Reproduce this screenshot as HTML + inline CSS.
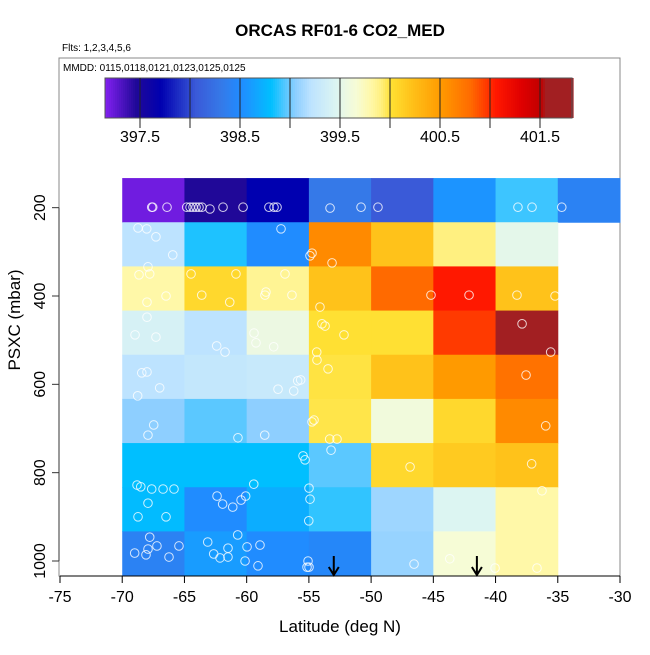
<!DOCTYPE html>
<html><head><meta charset="utf-8"><style>
body{margin:0;background:#fff;}
svg text{font-family:"Liberation Sans",sans-serif;}
</style></head><body>
<svg id="chart" width="650" height="650" viewBox="0 0 650 650" xmlns="http://www.w3.org/2000/svg">
<text x="340" y="36" text-anchor="middle" font-size="17" font-weight="bold">ORCAS RF01-6 CO2_MED</text>
<text x="62" y="51" font-size="10">Flts: 1,2,3,4,5,6</text>
<rect x="59" y="58" width="561" height="518" fill="none" stroke="#888" stroke-width="1"/>
<text x="63" y="71" font-size="10">MMDD: 0115,0118,0121,0123,0125,0125</text>
<g id="cells"></g><g id="pts"></g><g id="arrows"></g><g id="cbar"></g><g id="axes"></g>
<text x="340" y="632" text-anchor="middle" font-size="17">Latitude (deg N)</text>
<text x="0" y="0" transform="translate(20,320) rotate(-90)" text-anchor="middle" font-size="17">PSXC (mbar)</text>
</svg>
<script>
const latBins=[-70,-65,-60,-55,-50,-45,-40,-35];
const presBins=[183,283,383,483,583,683,783,883,983];
const co2Grid=[
[397.2,397.45,397.7,398.3,398.05,398.55,398.9,398.4],
[399.2,398.85,398.5,400.6,400.2,399.9,399.5,null],
[399.8,400.05,399.85,400.2,400.8,401.05,400.2,null],
[399.4,399.2,399.55,400.0,400.0,400.95,401.6,null],
[399.2,399.25,399.28,399.98,400.2,400.5,400.75,null],
[399.05,398.95,399.05,399.97,399.6,400.05,400.6,null],
[398.8,398.8,398.8,398.95,400.05,400.15,400.2,null],
[398.78,398.5,398.7,398.88,399.1,399.45,399.8,null],
[398.4,398.6,398.5,398.45,399.08,399.65,399.8,null]];
const ptLat=[-67.63,-67.55,-66.40,-64.82,-64.55,-64.31,-64.07,-63.83,-63.59,-62.95,-61.90,-60.29,-58.21,-57.80,-57.56,-53.30,-50.81,-49.45,-38.20,-37.07,-34.68,
-68.73,-68.03,-67.29,-65.94,-67.93,-57.24,-54.91,-54.75,-53.14,
-68.65,-67.79,-66.48,-68.01,-64.47,-60.86,-63.61,-61.36,-56.92,-58.45,-58.53,-56.36,-54.11,-45.19,-42.13,-38.28,-35.22,
-68.01,-68.97,-67.29,-62.41,-61.74,-59.41,-59.25,-57.83,-53.95,-53.70,-52.18,-54.37,-54.35,-53.46,-37.87,-35.57,
-66.99,-68.76,-57.48,-56.22,-55.90,-55.66,-68.43,-68.01,-37.55,
-67.47,-67.93,-60.70,-58.55,-54.59,-54.75,-53.33,-52.74,-53.22,-35.97,
-55.47,-55.31,-68.81,-68.51,-67.63,-66.72,-65.84,-59.43,-46.87,-37.10,
-54.99,-54.91,-67.93,-68.73,-66.48,-62.38,-61.93,-61.12,-60.45,-60.08,-55.01,-36.27,
-67.79,-69.00,-68.09,-67.93,-67.21,-66.24,-65.44,-63.13,-62.65,-62.14,-61.50,-61.50,-60.72,-59.97,-58.93,-60.13,-59.09,-55.15,-54.99,-55.07,-46.55,-43.68,-40.04,-36.67];
const ptPres=[199,199,199,199,199,199,199,199,199,203,199,199,199,199,199,201,199,199,199,199,199,
246,248,266,307,334,248,309,303,325,
352,350,400,414,350,350,398,414,350,391,398,398,425,398,398,398,400,
448,488,493,513,527,484,506,515,463,468,488,527,545,565,463,527,
608,626,611,615,592,590,574,572,579,
692,715,721,715,681,685,724,724,749,694,
762,771,828,832,837,837,837,826,787,780,
835,860,869,900,900,853,871,878,862,853,909,841,
946,982,986,973,966,991,966,957,984,993,991,971,941,968,964,1000,1011,1014,1014,1000,1007,995,1016,1016];
const arrowLat=[-53,-41.5];
const xTicks=[-75,-70,-65,-60,-55,-50,-45,-40,-35,-30];
const yTicks=[200,400,600,800,1000];
const cbTicks=[397.5,398.5,399.5,400.5,401.5];
const cbLines=[397.5,398,398.5,399,399.5,400,400.5,401,401.5];

const NS='http://www.w3.org/2000/svg';
function X(lat){return 60+(lat+75)*560/45;}
function Y(p){return 296+(p-400)*265/600;}
function CB(v){return 140+(v-397.5)*100;}
const stops=[[397.15,'#8020ee'],[397.45,'#200898'],[397.7,'#0000b0'],[398.05,'#3a5ad8'],[398.3,'#3579e8'],[398.5,'#208cff'],[398.6,'#189cff'],[398.8,'#00bfff'],[398.95,'#5bc8ff'],[399.05,'#8ecfff'],[399.2,'#bde3ff'],[399.45,'#dcf5f2'],[399.55,'#ecf8e2'],[399.65,'#f6fcd6'],[399.8,'#fff8a8'],[399.9,'#fff080'],[400.0,'#ffe033'],[400.2,'#ffc21a'],[400.5,'#ff9a00'],[400.6,'#ff8a00'],[400.8,'#ff6a00'],[400.95,'#ff3a00'],[401.05,'#ff1800'],[401.3,'#e00000'],[401.5,'#c00000'],[401.55,'#a21f22'],[401.82,'#a21f22']];
function hx(c){return [1,3,5].map(i=>parseInt(c.substr(i,2),16));}
function color(v){
  if(v<=stops[0][0])return stops[0][1];
  for(let i=1;i<stops.length;i++){if(v<=stops[i][0]){const a=stops[i-1],b=stops[i];const t=(v-a[0])/(b[0]-a[0]);const ca=hx(a[1]),cb=hx(b[1]);return 'rgb('+ca.map((c,k)=>Math.round(c+(cb[k]-c)*t)).join(',')+')';}}
  return stops[stops.length-1][1];
}
function mk(tag,attrs,parent){const e=document.createElementNS(NS,tag);for(const k in attrs)e.setAttribute(k,attrs[k]);parent.appendChild(e);return e;}
const gc=document.getElementById('cells');
co2Grid.forEach((row,r)=>row.forEach((v,c)=>{
  if(v===null)return;
  const x0=X(latBins[c]),x1=X(latBins[c]+5),y0=Y(presBins[r]-50),y1=Y(presBins[r]+50);
  const e=mk('rect',{x:x0,y:y0,width:x1-x0+0.5,height:y1-y0+0.5,fill:color(v)},gc);
  
  
}));
const gp=document.getElementById('pts');
ptLat.forEach((la,i)=>{
  const e=mk('circle',{cx:X(la),cy:Y(ptPres[i]),r:4.3,fill:'none',stroke:'rgba(255,255,255,0.8)','stroke-width':1},gp);
  
  
});
const ga=document.getElementById('arrows');
arrowLat.forEach(la=>{
  const x=X(la);
  const e=mk('path',{d:`M${x},556 L${x},575 M${x-5},567 L${x},575 L${x+5},567`,stroke:'#000','stroke-width':2,fill:'none'},ga);
  
  
});
const gb=document.getElementById('cbar');
for(let v=397.15;v<401.82;v+=0.02){mk('rect',{x:CB(v),y:78,width:2.6,height:40,fill:color(v)},gb);}
const cbFrame=mk('rect',{x:CB(397.15),y:78,width:CB(401.82)-CB(397.15),height:40,fill:'none',stroke:'#555'},gb);


cbLines.forEach(v=>{mk('line',{x1:CB(v),x2:CB(v),y1:78,y2:128,stroke:'#222','stroke-width':1},gb);});
cbTicks.forEach(v=>{const t=mk('text',{x:CB(v),y:142,'text-anchor':'middle','font-size':16},gb);t.textContent=v.toFixed(1);
  
  });
const gx=document.getElementById('axes');
mk('line',{x1:X(-75),x2:X(-30),y1:576,y2:576,stroke:'#000'},gx);
xTicks.forEach(v=>{mk('line',{x1:X(v),x2:X(v),y1:576,y2:583,stroke:'#000'},gx);
  const t=mk('text',{x:X(v),y:602,'text-anchor':'middle','font-size':16},gx);t.textContent=v;
  
  });
mk('line',{x1:59,x2:59,y1:Y(200),y2:Y(1000),stroke:'#333'},gx);
yTicks.forEach(v=>{mk('line',{x1:52,x2:59,y1:Y(v),y2:Y(v),stroke:'#333'},gx);
  const t=mk('text',{x:0,y:0,transform:`translate(45,${Y(v)}) rotate(-90)`,'text-anchor':'middle','font-size':16},gx);t.textContent=v;
  
  });
</script>
</body></html>
